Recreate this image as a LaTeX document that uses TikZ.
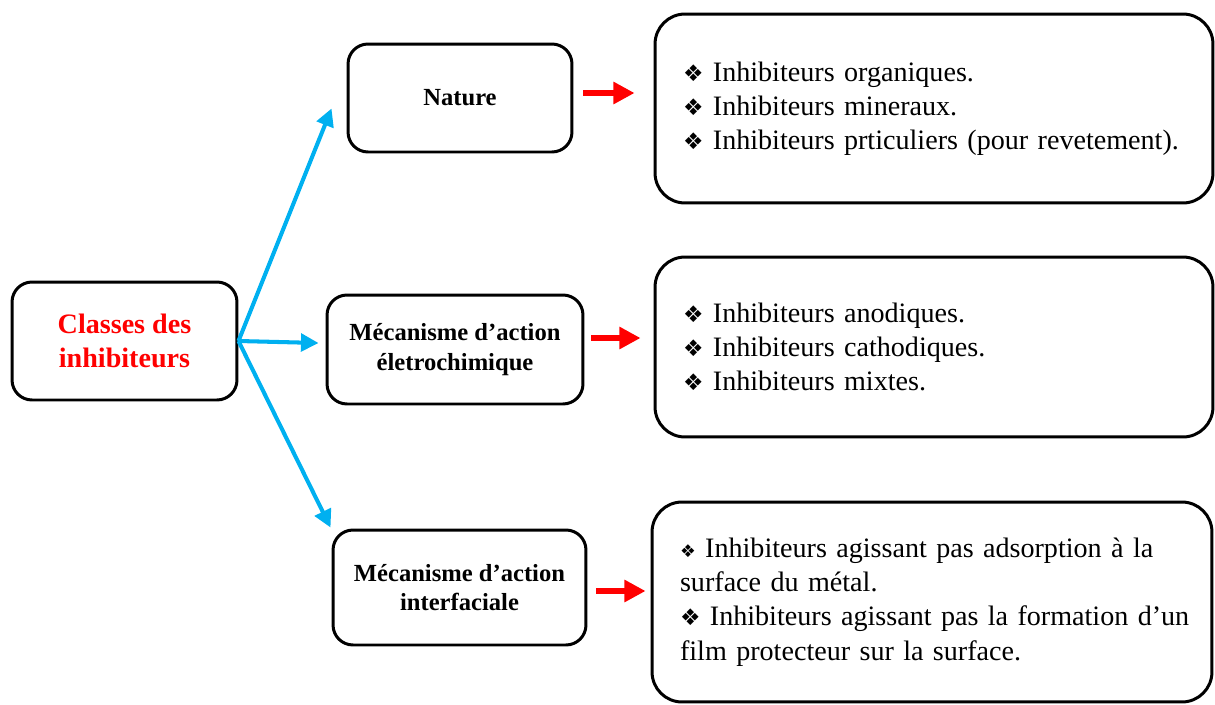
\documentclass[tikz,border=0pt]{standalone}
\usepackage{fontspec}
\setmainfont{Liberation Serif}
\newfontfamily\symfont{DejaVu Sans}
\usepackage{tikz}
\usetikzlibrary{arrows.meta,calc}
\definecolor{skyblue}{HTML}{00B0F0}
\newcommand{\puce}{{\symfont\fontsize{13}{13}\selectfont ❖}\ }
\newcommand{\petitepuce}{{\symfont\fontsize{10}{10}\selectfont ❖}\ }

\begin{document}
\begin{tikzpicture}[x=0.02cm,y=-0.02cm,
  catbox/.style={draw,line width=1.7pt,rounded corners=0.4cm,align=center,
    font=\bfseries\fontsize{14}{17}\selectfont},
  listbox/.style={draw,line width=1.7pt,rounded corners=0.6cm,align=left,
    font=\fontsize{16}{19.5}\selectfont,inner xsep=0.56cm},
  bluearrow/.style={skyblue,line width=2.3pt,-{Triangle[length=10pt,width=10pt]}},
  redarrow/.style={red,line width=3pt,-{Triangle[length=12pt,width=12pt]}}]
  \useasboundingbox (0,0) rectangle (1215,704);

  % left and middle boxes
  \node[catbox,text=red,font=\bfseries\fontsize{16}{19}\selectfont,
    minimum width=4.5cm,minimum height=2.36cm] (classes) at (124.5,341) {Classes des\\inhibiteurs};
  \node[catbox,minimum width=4.48cm,minimum height=2.16cm] (nature) at (460,98) {Nature};
  \node[catbox,minimum width=5.12cm,minimum height=2.18cm] (electro) at (455,349.5)
    {Mécanisme d’action\\életrochimique};
  \node[catbox,minimum width=5.06cm,minimum height=2.3cm] (interface) at (459.5,587.5)
    {Mécanisme d’action\\interfaciale};

  % right boxes
  \node[listbox,text width=10.04cm,minimum height=3.78cm] (natlist) at (934,108.5)
    {\puce Inhibiteurs organiques.\\
     \puce Inhibiteurs mineraux.\\
     \mbox{\puce Inhibiteurs prticuliers (pour revetement).}};
  \node[listbox,text width=10.04cm,minimum height=3.6cm] (electlist) at (934,347)
    {\puce Inhibiteurs anodiques.\\
     \puce Inhibiteurs cathodiques.\\
     \puce Inhibiteurs mixtes.};
  \node[listbox,text width=10.08cm,minimum height=4.0cm] (interlist) at (932,602)
    {\mbox{\petitepuce Inhibiteurs agissant pas adsorption à la}\\
     surface du métal.\\
     \mbox{\puce Inhibiteurs agissant pas la formation d’un}\\
     film protecteur sur la surface.};

  % arrows
  \draw[bluearrow] (classes.east) -- ($(nature.south west)+(-0.3cm,0.9cm)$);
  \draw[bluearrow] (classes.east) -- ($(electro.west)+(-0.14cm,0.13cm)$);
  \draw[bluearrow] (classes.east) -- ($(interface.north west)+(-0.02cm,0.02cm)$);

  \draw[redarrow] ($(nature.east)+(0.2cm,0.1cm)$) -- ($(nature.east -| natlist.west)+(-0.38cm,0.1cm)$);
  \draw[redarrow] ($(electro.east)+(0.14cm,0.23cm)$) -- ($(electro.east -| electlist.west)+(-0.26cm,0.23cm)$);
  \draw[redarrow] ($(interface.east)+(0.18cm,-0.07cm)$) -- ($(interface.east -| interlist.west)+(-0.1cm,-0.07cm)$);
\end{tikzpicture}
\end{document}
